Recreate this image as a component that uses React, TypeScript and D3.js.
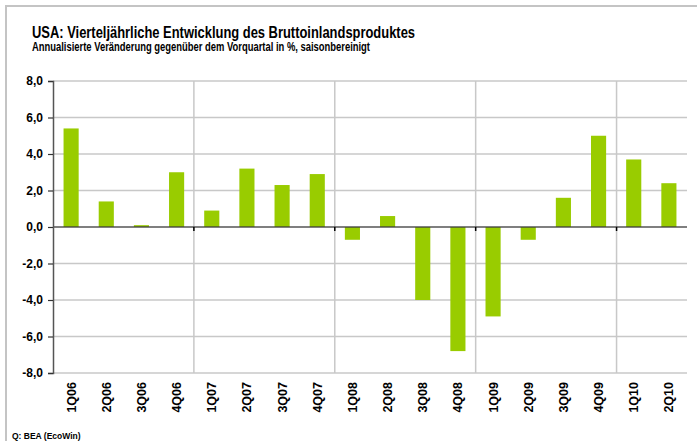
// BIP-Quartalsentwicklung USA, Balkendiagramm
import React, { useEffect, useRef } from 'react';
import * as d3 from 'd3';

const quarters = [
  '1Q06', '2Q06', '3Q06', '4Q06',
  '1Q07', '2Q07', '3Q07', '4Q07',
  '1Q08', '2Q08', '3Q08', '4Q08',
  '1Q09', '2Q09', '3Q09', '4Q09',
  '1Q10', '2Q10'
];
const gdpChange = [
  5.4, 1.4, 0.1, 3.0,
  0.9, 3.2, 2.3, 2.9,
  -0.7, 0.6, -4.0, -6.8,
  -4.9, -0.7, 1.6, 5.0,
  3.7, 2.4
];
const yTicks = [-8, -6, -4, -2, 0, 2, 4, 6, 8];
const groupBreaks = ['1Q07', '1Q08', '1Q09', '1Q10'];

const WIDTH = 697;
const HEIGHT = 441;
const FONT = 'Liberation Sans, Arial, sans-serif';

const App: React.FC = () => {
  const svgRef = useRef<SVGSVGElement>(null);

  useEffect(() => {
    if (!svgRef.current) return;
    const svg = d3.select(svgRef.current);
    svg.selectAll('*').remove();

    const left = 53;
    const right = 687;
    const top = 81;
    const bottom = 373;

    const x = d3.scaleBand<string>()
      .domain(quarters)
      .range([left, right])
      .paddingInner(0.57)
      .paddingOuter(0.3);
    const catStart = (q: string) => left + quarters.indexOf(q) * ((right - left) / quarters.length);

    const y = d3.scaleLinear().domain([-8, 8]).range([bottom, top]);

    // frame
    svg.append('path')
      .attr('d', `M6,${HEIGHT + 5} L6,6 L${WIDTH + 5},6`)
      .attr('fill', 'none')
      .attr('stroke', '#c4c4c4')
      .attr('stroke-width', 2);

    // titles
    svg.append('text')
      .attr('x', 32)
      .attr('y', 38)
      .attr('font-family', FONT)
      .attr('font-weight', 'bold')
      .attr('font-size', 16)
      .attr('textLength', 383)
      .attr('lengthAdjust', 'spacingAndGlyphs')
      .attr('fill', '#000')
      .text('USA: Vierteljährliche Entwicklung des Bruttoinlandsproduktes');

    svg.append('text')
      .attr('x', 32)
      .attr('y', 51)
      .attr('font-family', FONT)
      .attr('font-weight', 'bold')
      .attr('font-size', 12)
      .attr('textLength', 338)
      .attr('lengthAdjust', 'spacingAndGlyphs')
      .attr('fill', '#000')
      .text('Annualisierte Veränderung gegenüber dem Vorquartal in %, saisonbereinigt');

    // horizontal grid
    svg.append('g')
      .selectAll('line')
      .data(yTicks.filter(d => d !== 0))
      .enter()
      .append('line')
      .attr('x1', left)
      .attr('x2', right)
      .attr('y1', d => y(d))
      .attr('y2', d => y(d))
      .attr('stroke', '#c8c8c8')
      .attr('stroke-width', 1.5);

    // vertical grid between years
    svg.append('g')
      .selectAll('line')
      .data(groupBreaks)
      .enter()
      .append('line')
      .attr('x1', d => catStart(d))
      .attr('x2', d => catStart(d))
      .attr('y1', top)
      .attr('y2', bottom)
      .attr('stroke', '#c8c8c8')
      .attr('stroke-width', 1.5);

    // bars
    svg.append('g')
      .selectAll('rect')
      .data(gdpChange)
      .enter()
      .append('rect')
      .attr('x', (_, i) => (x(quarters[i]) as number))
      .attr('width', x.bandwidth())
      .attr('y', d => y(Math.max(0, d)))
      .attr('height', d => Math.abs(y(d) - y(0)))
      .attr('fill', '#99cc00');

    // zero line
    svg.append('line')
      .attr('x1', left)
      .attr('x2', right)
      .attr('y1', y(0))
      .attr('y2', y(0))
      .attr('stroke', '#3a3a3a')
      .attr('stroke-opacity', 0.65)
      .attr('stroke-width', 2);

    // x ticks at zero line
    svg.append('g')
      .selectAll('line')
      .data(groupBreaks)
      .enter()
      .append('line')
      .attr('x1', d => catStart(d))
      .attr('x2', d => catStart(d))
      .attr('y1', y(0))
      .attr('y2', y(0) + 4)
      .attr('stroke', '#000')
      .attr('stroke-width', 1.5);

    // y axis
    const yAxis = d3.axisLeft(y)
      .tickValues(yTicks)
      .tickSize(5)
      .tickPadding(5)
      .tickFormat(d => d3.format('.1f')(d as number).replace('.', ',').replace('−', '-'));
    const ya = svg.append('g')
      .attr('transform', `translate(${left},0)`)
      .call(yAxis);
    ya.select('.domain').attr('stroke', '#555').attr('stroke-width', 1.5);
    ya.selectAll('.tick line').attr('stroke', '#333').attr('stroke-width', 1.2);
    ya.selectAll('.tick text')
      .attr('font-family', FONT)
      .attr('font-weight', 'bold')
      .attr('font-size', 12)
      .attr('fill', '#000');

    // category labels
    svg.append('g')
      .selectAll('text')
      .data(quarters)
      .enter()
      .append('text')
      .attr('transform', d => `translate(${(x(d) as number) + x.bandwidth() / 2},382) rotate(-90)`)
      .attr('text-anchor', 'end')
      .attr('dy', '0.36em')
      .attr('font-family', FONT)
      .attr('font-weight', 'bold')
      .attr('font-size', 12.5)
      .attr('fill', '#000')
      .text(d => d);

    // source
    svg.append('text')
      .attr('x', 12)
      .attr('y', 439)
      .attr('font-family', FONT)
      .attr('font-weight', 'bold')
      .attr('font-size', 8.5)
      .attr('fill', '#000')
      .text('Q: BEA (EcoWin)');
  }, []);

  return (
    <svg
      ref={svgRef}
      width={WIDTH}
      height={HEIGHT}
      style={{ position: 'absolute', left: 0, top: 0, background: '#fff' }}
    />
  );
};

export default App;
